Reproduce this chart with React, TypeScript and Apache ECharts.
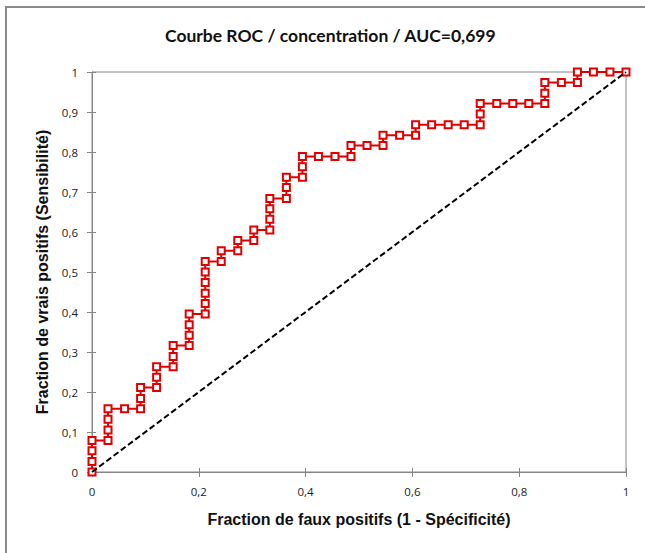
import React, { useEffect, useRef } from "react";
import * as echarts from "echarts";

// ROC points: false positive fraction (1 - specificity) and true positive fraction (sensitivity)
const fpr = [
  0, 0, 0, 0,
  0.03, 0.03, 0.03, 0.03,
  0.061,
  0.091, 0.091, 0.091,
  0.121, 0.121, 0.121,
  0.152, 0.152, 0.152,
  0.182, 0.182, 0.182, 0.182,
  0.212, 0.212, 0.212, 0.212, 0.212, 0.212,
  0.242, 0.242,
  0.273, 0.273,
  0.303, 0.303,
  0.333, 0.333, 0.333, 0.333,
  0.364, 0.364, 0.364,
  0.394, 0.394, 0.394,
  0.424,
  0.455,
  0.485, 0.485,
  0.515,
  0.545, 0.545,
  0.576,
  0.606, 0.606,
  0.636,
  0.667,
  0.697,
  0.727, 0.727, 0.727,
  0.758,
  0.788,
  0.818,
  0.848, 0.848, 0.848,
  0.879,
  0.909, 0.909,
  0.939,
  0.97,
  1,
];

const tpr = [
  0, 0.026, 0.053, 0.079,
  0.079, 0.105, 0.132, 0.158,
  0.158,
  0.158, 0.184, 0.211,
  0.211, 0.237, 0.263,
  0.263, 0.289, 0.316,
  0.316, 0.342, 0.368, 0.395,
  0.395, 0.421, 0.447, 0.474, 0.5, 0.526,
  0.526, 0.553,
  0.553, 0.579,
  0.579, 0.605,
  0.605, 0.632, 0.658, 0.684,
  0.684, 0.711, 0.737,
  0.737, 0.763, 0.789,
  0.789,
  0.789,
  0.789, 0.816,
  0.816,
  0.816, 0.842,
  0.842,
  0.842, 0.868,
  0.868,
  0.868,
  0.868,
  0.868, 0.895, 0.921,
  0.921,
  0.921,
  0.921,
  0.921, 0.947, 0.974,
  0.974,
  0.974, 1,
  1,
  1,
  1,
];

// Random-classifier reference line
const diagonalX = [0, 1];
const diagonalY = [0, 1];

const chartTitle = "Courbe ROC / concentration / AUC=0,699";
const xTitle = "Fraction de faux positifs (1 - Spécificité)";
const yTitle = "Fraction de vrais positifs (Sensibilité)";

const AXIS_GREY = "#868686";
const RED = "#e00000";

const commaLabel = (v: number) => String(Number(v.toFixed(1))).replace(".", ",");

export default function App() {
  const ref = useRef<HTMLDivElement>(null);

  useEffect(() => {
    if (!ref.current) return;
    const chart = echarts.init(ref.current, null, { renderer: "svg" });

    const labelStyle = {
      color: "#222",
      fontFamily: "Open Sans",
      fontSize: 11.5,
    };
    const titleStyle = {
      color: "#111",
      fontFamily: "Liberation Sans",
      fontWeight: "bold" as const,
      fontSize: 16,
    };

    chart.setOption({
      animation: false,
      backgroundColor: "#ffffff",
      title: {
        text: chartTitle,
        left: 160,
        top: 21,
        textStyle: {
          fontFamily: "Lato",
          fontWeight: "bold",
          fontSize: 17.5,
          color: "#111",
        },
      },
      graphic: [
        {
          type: "rect",
          shape: { x: 6, y: 7, width: 700, height: 600 },
          style: { fill: "none", stroke: "#8a8a8a", lineWidth: 2 },
          silent: true,
        },
      ],
      grid: {
        left: 92,
        right: 19,
        top: 72,
        bottom: 81,
        show: true,
        borderColor: AXIS_GREY,
        borderWidth: 1,
      },
      xAxis: [
        {
          type: "value",
          min: 0,
          max: 1,
          interval: 0.2,
          position: "bottom",
          name: xTitle,
          nameLocation: "middle",
          nameGap: 39,
          nameTextStyle: titleStyle,
          axisLine: { show: true, lineStyle: { color: AXIS_GREY, width: 1 } },
          axisTick: { show: true, length: 5, lineStyle: { color: AXIS_GREY } },
          axisLabel: { ...labelStyle, margin: 13, formatter: commaLabel },
          splitLine: { show: false },
        },
        {
          type: "value",
          min: 0,
          max: 1,
          interval: 0.2,
          position: "bottom",
          axisLine: { show: false },
          axisTick: { show: true, inside: true, length: 4, lineStyle: { color: AXIS_GREY } },
          axisLabel: { show: false },
          splitLine: { show: false },
        },
      ],
      yAxis: [
        {
          type: "value",
          min: 0,
          max: 1,
          interval: 0.1,
          position: "left",
          name: yTitle,
          nameLocation: "middle",
          nameGap: 38,
          nameTextStyle: titleStyle,
          axisLine: { show: true, lineStyle: { color: AXIS_GREY, width: 1 } },
          axisTick: { show: true, length: 5, lineStyle: { color: AXIS_GREY } },
          axisLabel: { ...labelStyle, margin: 14, formatter: commaLabel },
          splitLine: { show: false },
        },
        {
          type: "value",
          min: 0,
          max: 1,
          interval: 0.1,
          position: "left",
          axisLine: { show: false },
          axisTick: { show: true, inside: true, length: 4, lineStyle: { color: AXIS_GREY } },
          axisLabel: { show: false },
          splitLine: { show: false },
        },
      ],
      series: [
        {
          type: "line",
          xAxisIndex: 0,
          yAxisIndex: 0,
          data: fpr.map((x, i) => [x, tpr[i]]),
          symbol: "rect",
          symbolSize: 7,
          showAllSymbol: true,
          lineStyle: { color: RED, width: 2 },
          itemStyle: { color: "#ffffff", borderColor: RED, borderWidth: 2 },
          z: 3,
        },
        {
          type: "line",
          xAxisIndex: 0,
          yAxisIndex: 0,
          data: diagonalX.map((x, i) => [x, diagonalY[i]]),
          symbol: "none",
          lineStyle: { color: "#000000", width: 2, type: [6, 3] },
          z: 4,
        },
      ],
    });

    return () => chart.dispose();
  }, []);

  return (
    <div
      ref={ref}
      style={{ position: "fixed", left: 0, top: 0, width: 645, height: 553 }}
    />
  );
}
